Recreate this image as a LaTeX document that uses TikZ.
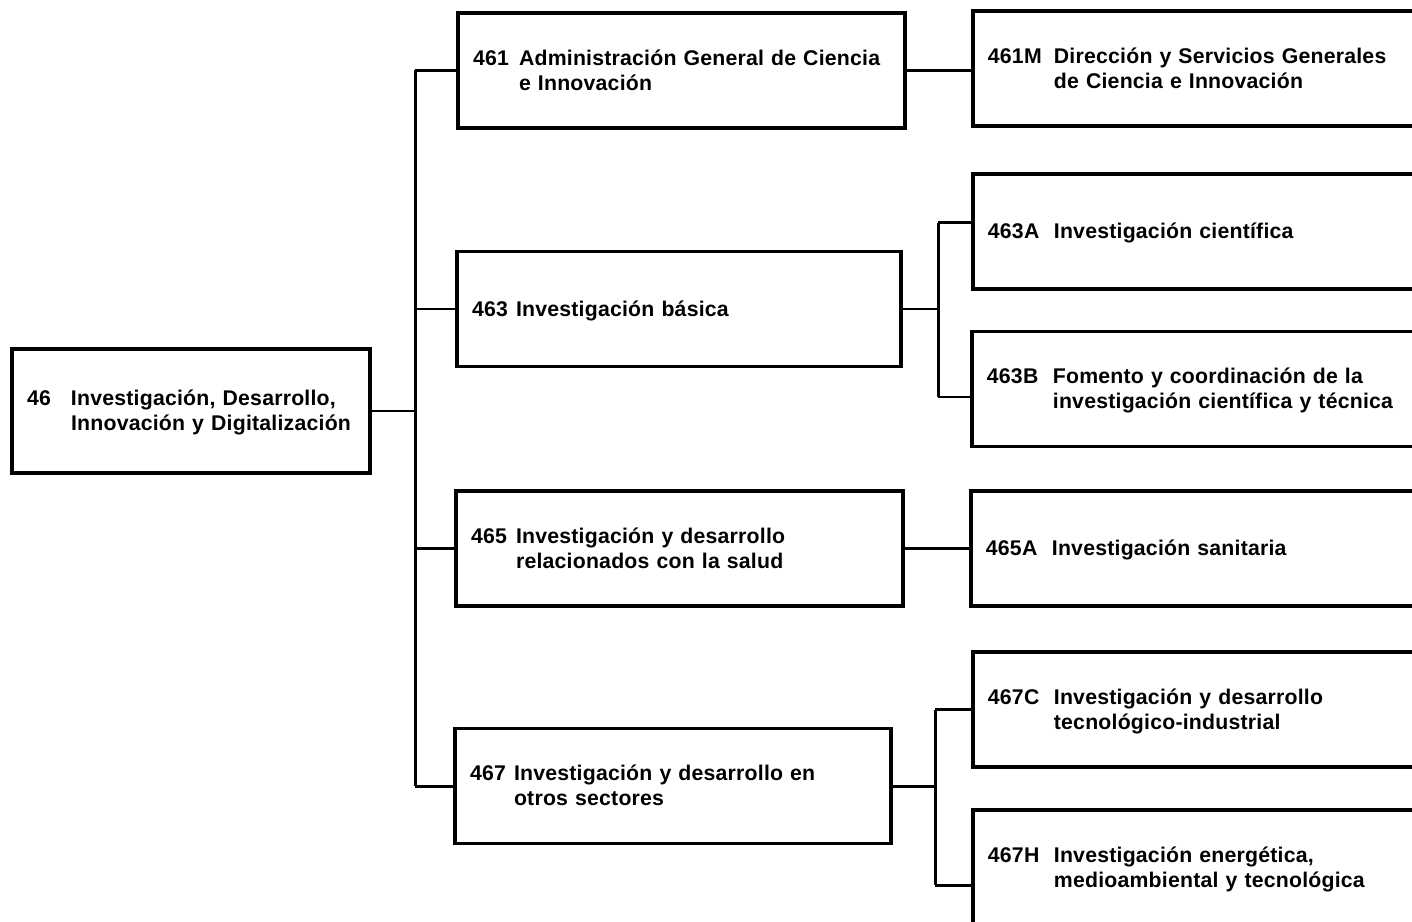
\documentclass[tikz,border=0pt]{standalone}
\usepackage{fontspec}
\setmainfont{Liberation Sans}[LetterSpace=1.0]
\usepackage{tikz}
\usetikzlibrary{
	calc,											% coordinate calculations
	positioning,									% relative placement
}
% number column + text column (content lowered a little, box size kept)
\newcommand\rubro[3]{\raisebox{-1.4pt}[\height][\depth]{\begin{tabular}{@{}p{#1}@{}l@{}}#2 & #3\end{tabular}}}

\tikzset{
	caja/.style={draw, line width=2.2pt, minimum height=2.3cm, inner xsep=0.3cm,
		align=left, font=\fontsize{12.1}{14.2}\selectfont\bfseries},
	linea/.style={line width=1.7pt},
}

\begin{document}
\begin{tikzpicture}[x=0.02cm, y=-0.02cm]
		\useasboundingbox (0,0) rectangle (1412,922);
		% programa raiz
		\node[caja, text width=6.56cm, minimum height=2.48cm] (root) at (191,411)
			{\rubro{0.88cm}{46}{Investigación, Desarrollo,\\ & Innovación y Digitalización}};
		% subfunciones
		\node[caja, text width=8.34cm] (b461) at (681.5,70.5)
			{\rubro{0.92cm}{461}{Administración General de Ciencia\\ & e Innovación}};
		\node[caja, text width=8.28cm] (b463) at (679,309)
			{\rubro{0.88cm}{463}{Investigación básica}};
		\node[caja, text width=8.34cm] (b465) at (679.5,548.5)
			{\rubro{0.9cm}{465}{Investigación y desarrollo\\ & relacionados con la salud}};
		\node[caja, text width=8.12cm] (b467) at (673,786)
			{\rubro{0.88cm}{467}{Investigación y desarrollo en\\ & otros sectores}};
		% programas
		\node[caja, anchor=west, text width=9cm] (b461M) at (971,68.5)
			{\rubro{1.32cm}{461M}{Dirección y Servicios Generales\\ & de Ciencia e Innovación}};
		\node[caja, anchor=west, text width=9cm] (b463A) at (971,231.5)
			{\rubro{1.32cm}{463A}{Investigación científica}};
		\node[caja, anchor=west, text width=9cm] (b463B) at (970,389)
			{\rubro{1.32cm}{463B}{Fomento y coordinación de la\\ & investigación científica y técnica}};
		\node[caja, anchor=west, text width=9cm] (b465A) at (969,548.5)
			{\rubro{1.32cm}{465A}{Investigación sanitaria}};
		\node[caja, anchor=west, text width=9cm] (b467C) at (971,709.5)
			{\rubro{1.32cm}{467C}{Investigación y desarrollo\\ & tecnológico-industrial}};
		\node[caja, anchor=west, text width=9cm] (b467H) at (971,867.5)
			{\rubro{1.32cm}{467H}{Investigación energética,\\ & medioambiental y tecnológica}};
		% ejes de las llaves
		\coordinate (spine) at (415,0);
		\coordinate (brA) at (938,0);
		\coordinate (brC) at (935,0);
		% raiz -> subfunciones
		\draw[linea] (root.east) -- (root.east -| spine);
		\draw[linea] (spine |- b461.west) -- (spine |- b467.west);
		\foreach \n in {b461,b463,b465,b467}
			\draw[linea] (spine |- \n.west) -- (\n.west);
		% subfunciones -> programas
		\draw[linea] (b461.east) -- (b461.east -| b461M.west);
		\draw[linea] (b465.east) -- (b465.east -| b465A.west);
		\draw[linea] (b463.east) -- (b463.east -| brA);
		\draw[linea] ([yshift=0.18cm]brA |- b463A.west) -- ([yshift=0.18cm]b463A.west);
		\draw[linea] ([yshift=-0.16cm]brA |- b463B.west) -- ([yshift=-0.16cm]b463B.west);
		\draw[linea] ([yshift=0.18cm]brA |- b463A.west) -- ([yshift=-0.16cm]brA |- b463B.west);
		\draw[linea] (b467.east) -- (b467.east -| brC);
		\draw[linea] (brC |- b467C.west) -- (b467C.west);
		\draw[linea] ([yshift=-0.35cm]brC |- b467H.west) -- ([yshift=-0.35cm]b467H.west);
		\draw[linea] (brC |- b467C.west) -- ([yshift=-0.35cm]brC |- b467H.west);
	\end{tikzpicture}
\end{document}
